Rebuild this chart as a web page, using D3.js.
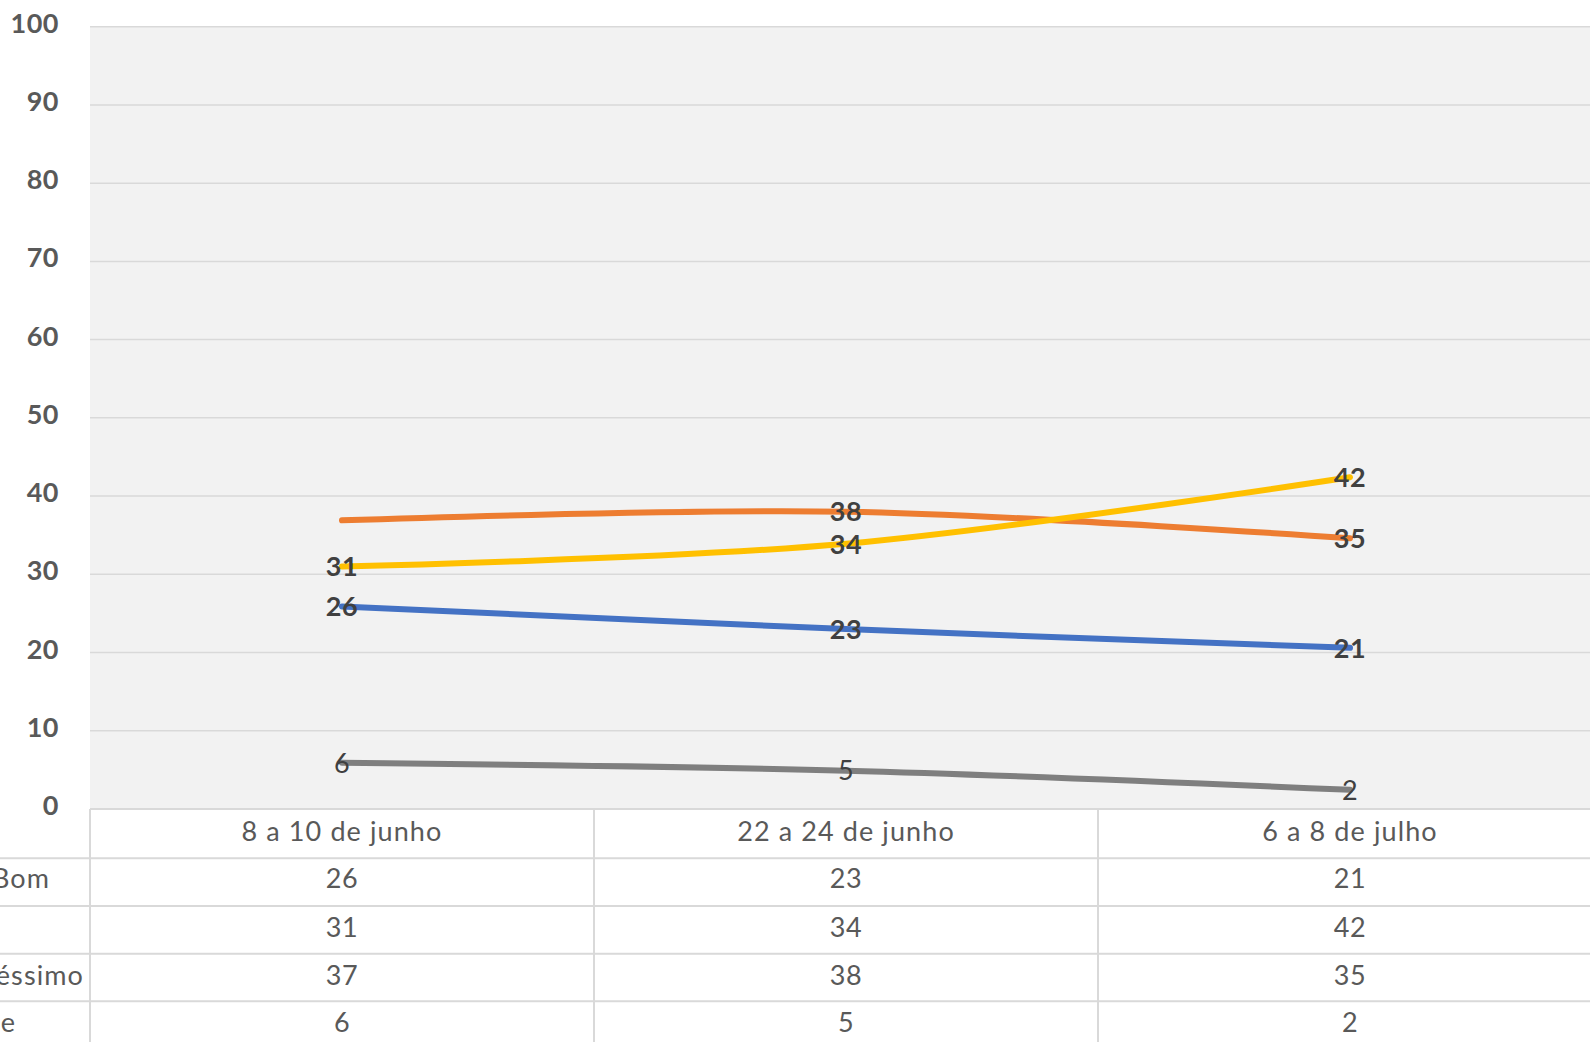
<!DOCTYPE html>
<html>
<head>
<meta charset="utf-8">
<script src="https://cdn.jsdelivr.net/npm/d3@7/dist/d3.min.js"></script>
<style>
  html, body { margin: 0; padding: 0; background: #fff; overflow: hidden; }
  svg { display: block; font-family: Lato, "Open Sans", sans-serif; }
</style>
</head>
<body>
<svg id="chart" width="1590" height="1042"></svg>
<script>
// ---- data ----
const categories = ["8 a 10 de junho", "22 a 24 de junho", "6 a 8 de julho"];
const seriesNames = ["Ótimo/Bom", "Regular", "Ruim/Péssimo", "Não sabe"];
// plotted values (the last survey is slightly unrounded)
const otimoBom = [25.9, 23.0, 20.6];
const regular = [31.0, 33.9, 42.4];
const ruimPessimo = [36.9, 38.0, 34.6];
const naoSabe = [5.9, 4.9, 2.45];
// values as printed in the data table / labels
const otimoBomTable = [26, 23, 21];
const regularTable = [31, 34, 42];
const ruimPessimoTable = [37, 38, 35];
const naoSabeTable = [6, 5, 2];
const yTicks = [0, 10, 20, 30, 40, 50, 60, 70, 80, 90, 100];
// which points carry a data label (reference omits the first Ruim/Péssimo label)
const showLabel = [[true, true, true], [true, true, true], [false, true, true], [true, true, true]];

const seriesValues = [otimoBom, regular, ruimPessimo, naoSabe];
const tableValues = [otimoBomTable, regularTable, ruimPessimoTable, naoSabeTable];
const colors = ["#4472C4", "#FFC000", "#ED7D31", "#7F7F7F"];
const boldLabels = [true, true, true, false];
// row label right ends (the labels are cut by the left edge in the reference)
const rowLabelEnd = [50, -3, 84, 16];

const W = 1590, H = 1042;
const plotLeft = 90, plotRight = 1602, plotTop = 26.7, plotBottom = 809;
const svg = d3.select("#chart");

const x = d3.scaleBand().domain(categories).range([plotLeft, plotRight]).paddingInner(0).paddingOuter(0);
const y = d3.scaleLinear().domain([0, 100]).range([plotBottom, plotTop]);

// plot background
svg.append("rect").attr("x", plotLeft).attr("y", plotTop)
  .attr("width", plotRight - plotLeft).attr("height", plotBottom - plotTop)
  .attr("fill", "#f2f2f2");

// gridlines
svg.append("g").selectAll("line").data(yTicks.filter(d => d > 0)).join("line")
  .attr("x1", plotLeft).attr("x2", plotRight)
  .attr("y1", d => y(d)).attr("y2", d => y(d))
  .attr("stroke", "#d9d9d9").attr("stroke-width", 1.5);

// y axis via d3.axisLeft
const yAxis = d3.axisLeft(y).tickValues(yTicks).tickSize(0).tickPadding(0).tickFormat(d3.format("d"));
const gy = svg.append("g").attr("transform", "translate(59,0)").call(yAxis);
gy.select(".domain").remove();
gy.selectAll("text")
  .attr("font-family", "Lato, sans-serif")
  .attr("font-size", 27).attr("font-weight", 700).attr("fill", "#595959")
  .attr("letter-spacing", 0.5)
  .attr("dy", "0.28em").attr("y", -2);

// table
const rowTops = [809, 858.3, 906, 953.7, 1001.3, 1049];
const tbl = svg.append("g");
tbl.append("line").attr("x1", plotLeft).attr("x2", W).attr("y1", rowTops[0]).attr("y2", rowTops[0])
  .attr("stroke", "#d9d9d9").attr("stroke-width", 2);
tbl.selectAll("line.h").data(rowTops.slice(1, 5)).join("line").attr("class", "h")
  .attr("x1", 0).attr("x2", W).attr("y1", d => d).attr("y2", d => d)
  .attr("stroke", "#d9d9d9").attr("stroke-width", 2);
tbl.selectAll("line.v").data(categories).join("line").attr("class", "v")
  .attr("x1", d => x(d)).attr("x2", d => x(d)).attr("y1", rowTops[0]).attr("y2", H)
  .attr("stroke", "#d9d9d9").attr("stroke-width", 2);
tbl.selectAll("text.cat").data(categories).join("text").attr("class", "cat")
  .attr("x", d => x(d) + x.bandwidth() / 2).attr("y", 832)
  .attr("text-anchor", "middle").attr("dy", "0.35em")
  .attr("font-size", 27).attr("letter-spacing", 1.1).attr("fill", "#595959").text(d => d);
seriesNames.forEach((name, i) => {
  const cy = [879, 927.5, 975.5, 1023][i];
  tbl.append("text").attr("x", rowLabelEnd[i]).attr("y", cy).attr("dy", "0.35em")
    .attr("text-anchor", "end").attr("font-size", 27).attr("letter-spacing", 1.1)
    .attr("fill", "#595959").text(name);
  tbl.selectAll("text.v" + i).data(tableValues[i]).join("text").attr("class", "v" + i)
    .attr("x", (d, j) => x(categories[j]) + x.bandwidth() / 2).attr("y", cy).attr("dy", "0.35em")
    .attr("text-anchor", "middle").attr("font-size", 27).attr("letter-spacing", 0.5)
    .attr("fill", "#595959").text(d => d);
});

// lines
const line = d3.line()
  .x((d, j) => x(categories[j]) + x.bandwidth() / 2)
  .y(d => y(d))
  .curve(d3.curveCardinal.tension(0));
const drawOrder = [3, 0, 2, 1];
drawOrder.forEach(i => {
  svg.append("path").datum(seriesValues[i])
    .attr("d", line).attr("fill", "none")
    .attr("stroke", colors[i]).attr("stroke-width", 6)
    .attr("stroke-linecap", "round").attr("stroke-linejoin", "round");
});

// data labels
drawOrder.forEach(i => {
  svg.append("g").selectAll("text")
    .data(seriesValues[i].map((v, j) => ({ v, t: tableValues[i][j], j })).filter(d => showLabel[i][d.j]))
    .join("text")
    .attr("x", d => x(categories[d.j]) + x.bandwidth() / 2)
    .attr("y", d => y(d.v)).attr("dy", "0.36em")
    .attr("text-anchor", "middle")
    .attr("font-size", 27).attr("font-weight", boldLabels[i] ? 700 : 400)
    .attr("letter-spacing", 0.5)
    .attr("fill", "#404040").text(d => d.t);
});
</script>
</body>
</html>
